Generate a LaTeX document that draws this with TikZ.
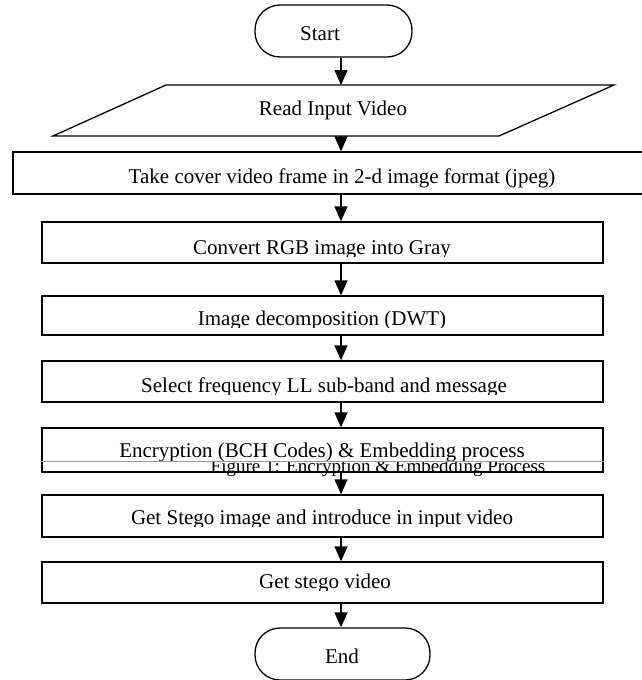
\documentclass[tikz,border=0pt]{standalone}
\usepackage{fontspec}
\setmainfont{Liberation Serif}
\usetikzlibrary{arrows.meta}

% text placed on its baseline and cut off at a given lower edge
\newcommand\cutlabel[5]{%
  \begin{scope}
    \clip (0,#3-30) rectangle (642,#4);
    \node[lbl] (#1) at (#2,#3) {#5};
  \end{scope}}

\begin{document}
\begin{tikzpicture}[x=1pt,y=-1pt,
  flow/.style={draw, line width=1.3pt, inner sep=0pt, fill=white},
  term/.style={flow, rounded corners=25pt},
  lbl/.style={font=\fontsize{21}{25}\selectfont, inner sep=0pt, anchor=base},
  arr/.style={line width=1.3pt, -{Triangle[width=13pt,length=15pt]}}]
\useasboundingbox (0,0) rectangle (642,680);
\clip (0,0) rectangle (642,680);

\coordinate (ax) at (341,0);

% terminals and process boxes
\node[term, minimum width=157pt, minimum height=52pt] (start) at (333.5,31) {};
\node[flow, minimum width=647pt, minimum height=42pt] (take) at (336.5,173) {};
\node[flow, minimum width=561pt, minimum height=41pt] (gray) at (322.5,242.5) {};
\node[flow, minimum width=561pt, minimum height=39pt] (dwt) at (322.5,315.5) {};
\node[flow, minimum width=561pt, minimum height=41pt] (band) at (322.5,381.5) {};
\node[flow, minimum width=561pt, minimum height=44pt] (enc) at (322.5,450) {};
\node[flow, minimum width=561pt, minimum height=42pt] (stego) at (322.5,516) {};
\node[flow, minimum width=561pt, minimum height=41pt] (svideo) at (322.5,582.5) {};
\node[term, minimum width=175pt, minimum height=52pt] (end) at (342.5,654) {};

% input parallelogram
\draw[line width=1.3pt] (53,136) -- (499,136) -- (614,85) -- (166,85) -- cycle;
\coordinate (readN) at (341,85);
\coordinate (readS) at (341,136);

% labels
\node[lbl] (tstart) at (320,40) {Start};
\node[lbl] (tread) at (333,115) {Read Input Video};
\cutlabel{ttake}{342}{183}{188}{Take cover video frame in 2-d image format (jpeg)}
\cutlabel{tgray}{322}{254}{256}{Convert RGB image into Gray}
\cutlabel{tdwt}{322}{325}{327}{Image decomposition (DWT)}
\cutlabel{tband}{324}{392}{394}{Select frequency LL sub-band and message}
\cutlabel{tenc}{322}{457}{460}{Encryption (BCH Codes) \& Embedding process}
% caption partly hidden under the encryption box text
\begin{scope}
  \clip (0,462) rectangle (642,490);
  \node[lbl, font=\fontsize{19}{23}\selectfont] (caption) at (378,472)
    {Figure 1: Encryption \& Embedding Process};
\end{scope}
\draw[line width=0.4pt, black!40] (enc.west |- 0,461) -- (enc.east |- 0,461);
\cutlabel{tstego}{322}{524}{526}{Get Stego image and introduce in input video}
\cutlabel{tsvideo}{325}{588}{590}{Get stego video}
\node[lbl] (tend) at (342,663) {End};

% connectors
\draw[arr] (start.south -| ax) -- (readN);
\draw[arr] (readS) -- (take.north -| ax);
\draw[arr] (take.south -| ax) -- (gray.north -| ax);
\draw[arr] (gray.south -| ax) -- (dwt.north -| ax);
\draw[arr] (dwt.south -| ax) -- (band.north -| ax);
\draw[arr] (band.south -| ax) -- (enc.north -| ax);
\draw[arr] (enc.south -| ax) -- (stego.north -| ax);
\draw[arr] (stego.south -| ax) -- (svideo.north -| ax);
\draw[arr] (svideo.south -| ax) -- (end.north -| ax);
\end{tikzpicture}
\end{document}
